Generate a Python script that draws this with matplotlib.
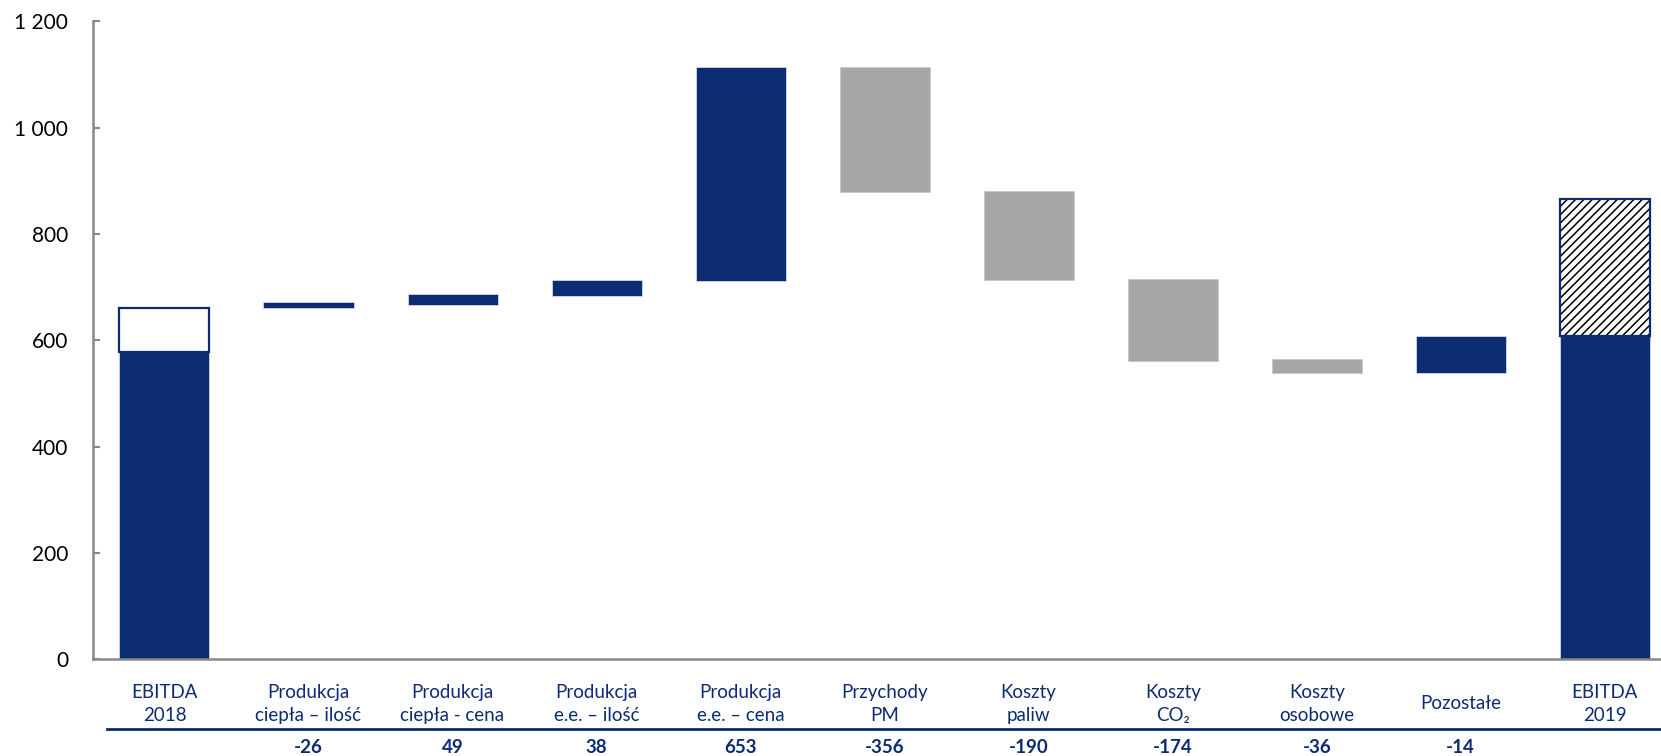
import matplotlib.pyplot as plt
from matplotlib.ticker import FuncFormatter

plt.rcParams['font.family'] = ['Lato', 'DejaVu Sans']
plt.rcParams['hatch.linewidth'] = 1.1

# category labels (two lines each), values from the table under the chart
labels = ['EBITDA\n2018', 'Produkcja\nciepła – ilość', 'Produkcja\nciepła - cena',
          'Produkcja\ne.e. – ilość', 'Produkcja\ne.e. – cena', 'Przychody\nPM',
          'Koszty\npaliw', 'Koszty\nCO₂', 'Koszty\nosobowe', 'Pozostałe', 'EBITDA\n2019']
table_vals = ['', '-26', '49', '38', '653', '-356', '-190', '-174', '-36', '-14', '']

# bar bottoms / tops
bar_start = [0, 661, 667, 683, 712, 1114, 881, 716, 565, 539, 0]
bar_end = [578, 671, 686, 714, 1114, 878, 713, 561, 539, 607, 607]
bar_kind = ['up', 'up', 'up', 'up', 'up', 'down', 'down', 'down', 'down', 'up', 'up']

# upper parts of the two EBITDA bars
ebitda18_total = 661
ebitda19_total = 865

navy = '#0b2c72'
grey = '#a6a6a6'

fig = plt.figure(figsize=(16.61, 7.56), dpi=100)
ax = fig.add_axes([0.056, 0.128, 0.944, 0.844])

x = list(range(len(labels)))
w = 0.625
for i in x:
    lo = min(bar_start[i], bar_end[i])
    hi = max(bar_start[i], bar_end[i])
    c = navy if bar_kind[i] == 'up' else grey
    ax.bar(i, hi - lo, bottom=lo, width=w, color=c, edgecolor='#d0d6e4' if c == navy else '#c8c8c8',
           linewidth=0.6, zorder=2)

# EBITDA 2018 white top part
ax.bar(0, ebitda18_total - bar_end[0], bottom=bar_end[0], width=w, color='white',
       edgecolor=navy, linewidth=1.6, zorder=3)
# EBITDA 2019 hatched top part
ax.bar(10, ebitda19_total - bar_end[10], bottom=bar_end[10], width=w, color='white',
       edgecolor='black', linewidth=0, hatch='////', zorder=3)
ax.bar(10, ebitda19_total - bar_end[10], bottom=bar_end[10], width=w, fill=False,
       edgecolor=navy, linewidth=1.6, zorder=4)

ax.set_xlim(-0.496, 10.39)
ax.set_ylim(0, 1200)
ax.set_yticks(range(0, 1201, 200))
ax.yaxis.set_major_formatter(FuncFormatter(lambda v, p: f'{int(v):,}'.replace(',', ' ')))
ax.tick_params(axis='y', direction='in', length=5, width=1.5, color='#888888',
               labelsize=15, pad=18)
ax.tick_params(axis='x', bottom=False, labelbottom=False)
for s in ['top', 'right']:
    ax.spines[s].set_visible(False)
for s in ['left', 'bottom']:
    ax.spines[s].set_color('#888888')
    ax.spines[s].set_linewidth(1.8)

tr = ax.get_xaxis_transform()
fs = 13.5
for i in x:
    lab = labels[i]
    if '\n' in lab:
        top, bot = lab.split('\n')
        ax.text(i, -0.0525, top, transform=tr, ha='center', va='center', color=navy, fontsize=fs)
        ax.text(i, -0.0885, bot, transform=tr, ha='center', va='center', color=navy, fontsize=fs)
    else:
        ax.text(i, -0.070, lab, transform=tr, ha='center', va='center', color=navy, fontsize=fs)
    ax.text(i, -0.139, table_vals[i], transform=tr, ha='center', va='center', color=navy,
            fontsize=fs, fontweight='bold')

ax.plot([-0.40, 10.6], [-0.1097, -0.1097], transform=tr, color=navy, linewidth=2,
        clip_on=False)

fig.savefig('out.png', dpi=100)
